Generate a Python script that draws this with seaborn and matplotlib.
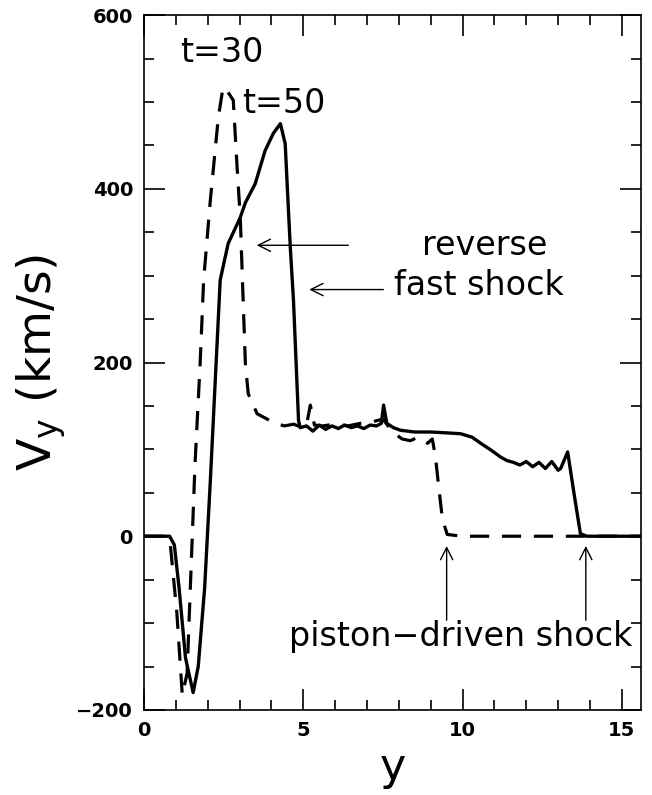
import numpy as np
import pandas as pd
import matplotlib
matplotlib.use("Agg")
import matplotlib.pyplot as plt
import seaborn as sns
from matplotlib.ticker import MultipleLocator

# t=30 profile (dashed)
y30 = [0.0, 0.6, 0.82, 1.03, 1.2, 1.35, 1.6, 1.76, 1.87, 2.08, 2.33, 2.48, 2.62, 2.8,
       2.92, 3.02, 3.11, 3.18, 3.27, 3.55, 4.06, 4.4, 4.7, 4.9, 5.1, 5.22, 5.35, 5.6,
       6.0, 6.4, 6.8, 7.2, 7.5, 7.8, 8.1, 8.36, 8.6, 8.9, 9.05, 9.15, 9.25, 9.37, 9.52,
       10.0, 15.6]
v30 = [0, 0, -8, -89, -183, -158, 84, 199, 295, 387, 482, 517, 512, 502,
       425, 367, 272, 199, 164, 141, 131, 127, 129, 126, 128, 151, 128, 127,
       129, 127, 130, 132, 135, 120, 112, 110, 114, 107, 112, 91, 57, 19, 2,
       0, 0]

# t=50 profile (solid)
y50 = [0.0, 0.8, 0.95, 1.1, 1.3, 1.54, 1.7, 1.9, 2.08, 2.39, 2.64, 3.02, 3.18, 3.49,
       3.8, 4.06, 4.28, 4.43, 4.59, 4.69, 4.85, 4.9, 5.1, 5.3, 5.5, 5.7, 5.9, 6.1,
       6.3, 6.5, 6.7, 6.9, 7.1, 7.3, 7.45, 7.52, 7.62, 7.83, 8.05, 8.5, 9.0, 9.5,
       9.94, 10.3, 10.57, 10.9, 11.2, 11.4, 11.6, 11.8, 12.0, 12.2, 12.4, 12.6,
       12.8, 13.0, 13.08, 13.3, 13.5, 13.7, 13.9, 15.6]
v50 = [0, 0, -10, -60, -140, -180, -150, -60, 64, 295, 337, 367, 384, 406,
       444, 464, 475, 452, 333, 272, 133, 125, 127, 121, 128, 123, 127, 124,
       128, 125, 127, 124, 128, 127, 130, 151, 130, 125, 122, 120, 120, 119,
       118, 114, 107, 99, 91, 87, 85, 82, 86, 80, 85, 78, 86, 76, 78, 97, 49, 3, 0, 0]

df30 = pd.DataFrame({"y": y30, "vy": v30})
df50 = pd.DataFrame({"y": y50, "vy": v50})

sns.set_style("ticks")
plt.rcParams['font.family'] = ['DejaVu Sans']
plt.rcParams['text.color'] = 'black'
plt.rcParams['axes.labelcolor'] = 'black'
plt.rcParams['xtick.color'] = 'black'
plt.rcParams['ytick.color'] = 'black'
plt.rcParams['axes.edgecolor'] = 'black'

fig = plt.figure(figsize=(6.52, 7.95), dpi=100)
ax = fig.add_axes([0.221, 0.107, 0.762, 0.874])

sns.lineplot(data=df30, x="y", y="vy", ax=ax, color="black", lw=2.3,
             linestyle=(0, (6, 4)), sort=False, estimator=None)
sns.lineplot(data=df50, x="y", y="vy", ax=ax, color="black", lw=2.4,
             sort=False, estimator=None)

ax.set_xlim(0, 15.6)
ax.set_ylim(-200, 600)
ax.xaxis.set_major_locator(MultipleLocator(5))
ax.xaxis.set_minor_locator(MultipleLocator(1))
ax.yaxis.set_major_locator(MultipleLocator(200))
ax.yaxis.set_minor_locator(MultipleLocator(50))
ax.tick_params(which="both", direction="in", top=True, right=True, width=1.2)
ax.tick_params(which="major", length=15, labelsize=14, pad=8)
ax.tick_params(which="minor", length=7)
for lab in ax.get_xticklabels() + ax.get_yticklabels():
    lab.set_fontweight("bold")
for s in ax.spines.values():
    s.set_linewidth(1.2)

ax.set_xlabel("y", fontsize=32)
ax.set_ylabel(r"V$_\mathregular{y}$ (km/s)", fontsize=34, labelpad=6)

ax.text(2.45, 557, "t=30", fontsize=24, ha="center", va="center")
ax.text(4.4, 498, "t=50", fontsize=24, ha="center", va="center")
ax.text(10.7, 335, "reverse", fontsize=24, ha="center", va="center")
ax.text(10.5, 289, "fast shock", fontsize=24, ha="center", va="center")
ax.text(9.95, -115, "piston\u2212driven shock", fontsize=24, ha="center", va="center")

arrow = dict(arrowstyle="->", color="black", lw=1.0, mutation_scale=22)
ax.annotate("", xy=(3.45, 335), xytext=(6.5, 335), arrowprops=arrow)
ax.annotate("", xy=(5.1, 284), xytext=(7.6, 284), arrowprops=arrow)
ax.annotate("", xy=(9.5, -8), xytext=(9.5, -100), arrowprops=arrow)
ax.annotate("", xy=(13.87, -8), xytext=(13.87, -100), arrowprops=arrow)

fig.savefig("out.png", dpi=100)
